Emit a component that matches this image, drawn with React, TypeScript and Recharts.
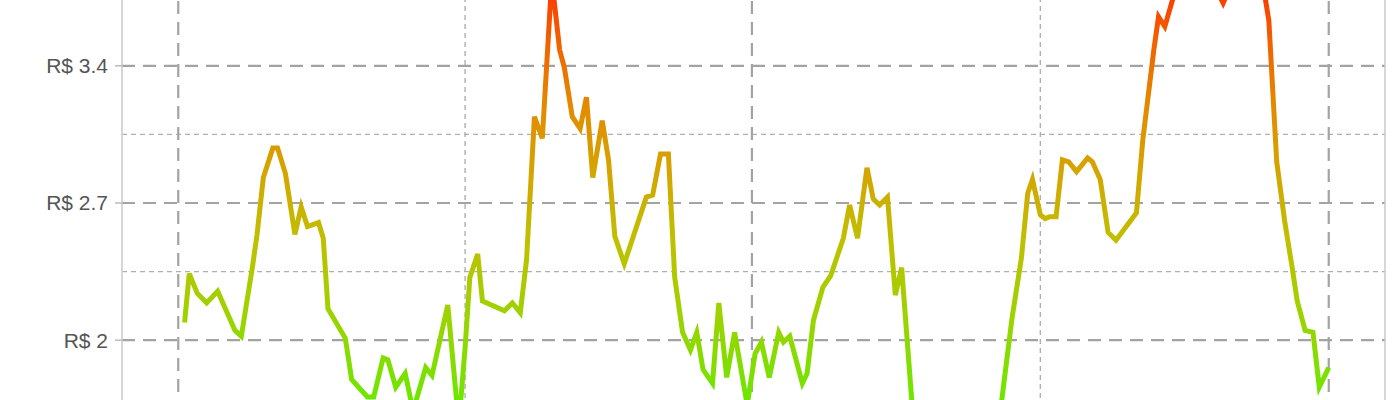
import React from "react";
import { LineChart, Line, XAxis, YAxis, ReferenceLine } from "recharts";

// days counted from the first major gridline
const days = [
  4, 7, 12, 18, 25, 36, 40, 47, 50, 54, 60, 63, 68, 74, 78, 82, 89, 92, 95,
  106, 110, 120, 124, 130, 133, 138, 144, 149, 157, 161, 171, 178, 182, 185,
  190, 193, 207, 212, 217, 221, 226, 231, 237, 242, 245, 250, 255, 259, 263,
  269, 273, 277, 283, 297, 301, 306, 311, 315, 320, 325, 329, 333, 339, 343,
  348, 353, 361, 366, 370, 375, 381, 384, 388, 396, 399, 403, 409, 414, 422,
  426, 431, 437, 441, 445, 450, 455, 459, 468, 476, 484, 492, 500, 509, 517,
  529, 535, 539, 542, 547, 550, 553, 557, 561, 565, 570, 577, 580, 585, 590,
  595, 608, 612, 619, 622, 626, 631, 636, 643, 651, 658, 663, 669, 677, 684,
  689, 692, 697, 702, 707, 710, 715, 720, 724, 730,
];

const prices = [
  2.09, 2.34, 2.24, 2.19, 2.25, 2.05, 2.02, 2.37, 2.54, 2.83, 2.98, 2.98, 2.85,
  2.54, 2.68, 2.58, 2.6, 2.52, 2.16, 2.01, 1.8, 1.71, 1.71, 1.91, 1.9, 1.76,
  1.83, 1.64, 1.86, 1.82, 2.18, 1.57, 1.96, 2.32, 2.44, 2.2, 2.15, 2.19, 2.14,
  2.41, 3.14, 3.03, 3.84, 3.48, 3.39, 3.14, 3.08, 3.24, 2.83, 3.12, 2.92, 2.53,
  2.39, 2.73, 2.74, 2.95, 2.95, 2.32, 2.04, 1.95, 2.04, 1.85, 1.78, 2.19, 1.81,
  2.04, 1.67, 1.93, 1.99, 1.81, 2.04, 1.99, 2.02, 1.78, 1.83, 2.1, 2.27, 2.33,
  2.52, 2.69, 2.52, 2.88, 2.72, 2.69, 2.73, 2.23, 2.37, 1.42, 1.36, 1.4, 1.31,
  1.35, 1.3, 1.34, 2.11, 2.42, 2.75, 2.82, 2.64, 2.62, 2.63, 2.63, 2.92, 2.91,
  2.86, 2.93, 2.91, 2.82, 2.55, 2.51, 2.65, 3.02, 3.48, 3.65, 3.6, 3.74, 3.86,
  3.93, 3.85, 3.8, 3.72, 3.83, 3.9, 3.87, 3.78, 3.63, 2.91, 2.61, 2.36, 2.2,
  2.05, 2.04, 1.76, 1.86,
];

const majorY = [2, 2.7, 3.4];
const minorY = [2.35, 3.05, 3.75];
const majorX = [0, 364, 730];
const minorX = [182, 547];

const colorValues = [1.3, 1.7, 2.1, 2.5, 2.9, 3.2, 3.5, 3.8];
const colorHexes = [
  "#44f500",
  "#6ee600",
  "#9ad400",
  "#bfc000",
  "#d6a200",
  "#e38a00",
  "#f06400",
  "#fc3800",
];

const data = days.map((d, i) => ({ day: d, price: prices[i] }));

const maxP = Math.max(...prices);
const minP = Math.min(...prices);

const X_DOMAIN: [number, number] = [-35.7, 765.7];

export default function App() {
  const stops = colorValues
    .map((v, i) => ({
      off: Math.min(1, Math.max(0, (maxP - v) / (maxP - minP))),
      c: colorHexes[i],
    }))
    .sort((a, b) => a.off - b.off);

  return (
    <div
      style={{
        position: "fixed",
        left: 0,
        top: 0,
        width: 1400,
        height: 400,
        overflow: "hidden",
        background: "#fff",
      }}
    >
      <div style={{ position: "absolute", left: 0, top: -101 }}>
        <LineChart
          width={1400}
          height={608}
          data={data}
          margin={{ top: 10, right: 15, bottom: 10, left: 0 }}
        >
          <defs>
            <linearGradient id="priceGrad" x1="0" y1="0" x2="0" y2="1">
              {stops.map((s, i) => (
                <stop key={i} offset={s.off} stopColor={s.c} />
              ))}
            </linearGradient>
          </defs>
          <XAxis
            type="number"
            dataKey="day"
            domain={X_DOMAIN}
            allowDataOverflow
            hide
          />
          <YAxis
            type="number"
            domain={[1.2, 4.2]}
            ticks={majorY}
            allowDataOverflow
            width={122}
            tickFormatter={(v) => `R$ ${v}`}
            tick={{
              fill: "#555",
              fontSize: 21,
              fontFamily: "'Liberation Sans', Arial, sans-serif",
            }}
            tickLine={{ stroke: "#bbb", strokeWidth: 1.5 }}
            tickSize={7}
            tickMargin={7}
            axisLine={{ stroke: "#c8c8c8", strokeWidth: 1.5 }}
          />
          {minorY.map((v) => (
            <ReferenceLine
              key={"my" + v}
              y={v}
              stroke="#b0b0b0"
              strokeWidth={1.4}
              strokeDasharray="5 4"
            />
          ))}
          {minorX.map((v) => (
            <ReferenceLine
              key={"mx" + v}
              x={v}
              stroke="#b0b0b0"
              strokeWidth={1.4}
              strokeDasharray="5 4"
            />
          ))}
          {majorY.map((v) => (
            <ReferenceLine
              key={"My" + v}
              y={v}
              stroke="#a3a3a3"
              strokeWidth={2.2}
              strokeDasharray="13 8"
            />
          ))}
          {majorX.map((v) => (
            <ReferenceLine
              key={"Mx" + v}
              x={v}
              stroke="#a3a3a3"
              strokeWidth={2.2}
              strokeDasharray="13 8"
            />
          ))}
          <ReferenceLine x={X_DOMAIN[1]} stroke="#c8c8c8" strokeWidth={1.5} />
          <Line
            type="linear"
            dataKey="price"
            stroke="url(#priceGrad)"
            strokeWidth={5}
            dot={false}
            activeDot={false}
            isAnimationActive={false}
          />
        </LineChart>
      </div>
    </div>
  );
}
